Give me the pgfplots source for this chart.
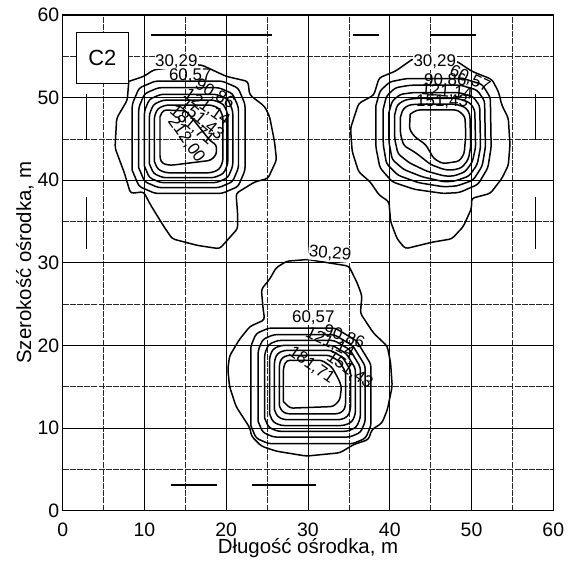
\documentclass[border=0pt]{standalone}
\usepackage{pgfplots}
\pgfplotsset{compat=1.18}
\usepackage{fontspec}
\setmainfont{Liberation Sans}
\tikzset{cl/.style={black, line width=1.5pt, line join=round, mark=none, rounded corners=3pt},
  lab/.style={font=\fontsize{17}{17}\selectfont, inner sep=0.3pt},
  labw/.style={font=\fontsize{17}{17}\selectfont, inner sep=0.6pt, fill=white}}
\begin{document}
\begin{tikzpicture}
\useasboundingbox (-62.7bp,-51.4bp) rectangle (513.3bp,510.6bp);
\begin{axis}[
  scale only axis, width=490.6bp, height=495.6bp,
  xmin=0, xmax=60, ymin=0, ymax=60,
  xtick={0,10,...,60}, ytick={0,10,...,60},
  minor xtick={5,15,...,55}, minor ytick={5,15,...,55},
  grid=both,
  major grid style={black, line width=0.7pt},
  minor grid style={black!85, line width=0.55pt, dash pattern=on 6pt off 1.2pt},
  major tick length=0pt, minor tick length=0pt,
  axis line style={line width=1.4pt},
  /pgf/number format/assume math mode=true,
  ticklabel style={font=\fontsize{19.5}{20}\selectfont},
  xticklabel style={yshift=-9pt},
  xlabel={Długość ośrodka, m}, ylabel={Szerokość ośrodka, m},
  label style={font=\fontsize{20.5}{22}\selectfont},
  xlabel style={yshift=5pt}, ylabel style={yshift=-3pt},
]
% ---------- top-left peak ----------
\addplot[cl] coordinates {(8.08,51.96)(9.93,52.57)(11.16,53.38)(16.9,53.99)(20.0,52.57)(22.66,51.96)(22.86,50.34)(24.7,48.93)(25.3,47.7)(25.9,44.7)(26.15,42.45)(25.1,40.2)(23.5,39.8)(21.2,38.4)(21.4,35.8)(21.4,34.15)(19.2,31.7)(16.5,32.1)(13.4,32.9)(12.4,34.35)(10.75,37.0)(9.9,38.6)(8.3,38.4)(7.5,41.0)(6.4,43.9)(6.6,47.5)(7.9,49.7)(8.08,51.96)};
\addplot[cl] coordinates {(8.5,41.2)(8.5,49.2)(9.34,51.16)(11.3,52.0)(19.5,52.0)(21.46,51.16)(22.3,49.2)(22.3,41.2)(21.46,39.24)(19.5,38.4)(11.3,38.4)(9.34,39.24)(8.5,41.2)};
\addplot[cl] coordinates {(9.3,41.5)(9.3,48.8)(10.02,50.48)(11.7,51.2)(19.1,51.2)(20.78,50.48)(21.5,48.8)(21.5,41.5)(20.78,39.82)(19.1,39.1)(11.7,39.1)(10.02,39.82)(9.3,41.5)};
\addplot[cl] coordinates {(10.0,41.7)(10.0,48.4)(10.6,49.8)(12.0,50.4)(18.8,50.4)(20.2,49.8)(20.8,48.4)(20.8,41.7)(20.2,40.3)(18.8,39.7)(12.0,39.7)(10.6,40.3)(10.0,41.7)};
\addplot[cl] coordinates {(10.6,42.0)(10.6,48.0)(11.11,49.19)(12.3,49.7)(18.5,49.7)(19.69,49.19)(20.2,48.0)(20.2,42.0)(19.69,40.81)(18.5,40.3)(12.3,40.3)(11.11,40.81)(10.6,42.0)};
\addplot[cl] coordinates {(11.2,42.3)(11.2,47.7)(11.62,48.68)(12.6,49.1)(18.2,49.1)(19.18,48.68)(19.6,47.7)(19.6,42.3)(19.18,41.32)(18.2,40.9)(12.6,40.9)(11.62,41.32)(11.2,42.3)};
\addplot[cl] coordinates {(11.9,47.7)(12.3,48.5)(15.1,48.4)(18.1,44.7)(18.8,44.3)(18.8,43.1)(18.1,42.4)(13.2,41.8)(12.2,42.0)(11.9,42.6)(11.9,47.7)};
% ---------- top-right peak ----------
\addplot[cl] coordinates {(42.7,54.6)(40.7,53.2)(38.7,52.4)(38.05,50.3)(36.2,49.3)(35.2,46.3)(35.4,43.5)(36.2,41.0)(37.6,39.8)(38.7,38.2)(39.9,37.4)(40.1,35.0)(40.9,32.9)(41.9,31.7)(45.2,32.5)(47.6,32.9)(49.0,34.4)(50.0,36.6)(50.0,37.8)(52.3,38.4)(53.7,40.2)(54.5,41.8)(54.7,44.3)(54.5,47.5)(53.7,49.1)(53.3,50.7)(52.5,52.2)(50.0,53.2)(48.2,54.4)(42.7,54.6)};
\addplot[cl] coordinates {(38.3,49.0)(38.8,50.8)(40.0,51.9)(42.0,52.3)(49.0,52.3)(51.3,51.6)(52.3,50.0)(52.4,44.0)(52.0,41.5)(50.8,39.5)(48.5,38.5)(46.5,38.4)(43.0,38.9)(40.3,39.8)(38.8,41.5)(38.3,44.0)(38.3,49.0)};
\addplot[cl] coordinates {(39.2,48.6)(39.6,50.2)(40.7,51.2)(42.5,51.5)(48.7,51.5)(50.7,50.9)(51.6,49.6)(51.7,44.0)(51.3,41.7)(50.2,40.0)(48.2,39.3)(46.6,39.2)(43.5,39.7)(41.0,40.6)(39.6,42.0)(39.2,44.3)(39.2,48.6)};
\addplot[cl] coordinates {(39.9,48.2)(40.3,49.6)(41.3,50.4)(42.8,50.6)(48.5,50.6)(50.2,50.1)(51.0,49.0)(51.1,44.0)(50.7,41.9)(49.7,40.5)(48.0,39.9)(46.7,39.8)(44.0,40.4)(41.7,41.3)(40.3,42.5)(39.9,44.6)(39.9,48.2)};
\addplot[cl] coordinates {(40.6,47.9)(40.9,49.1)(41.8,49.7)(43.1,49.9)(48.3,49.9)(49.8,49.4)(50.4,48.5)(50.5,44.0)(50.1,42.2)(49.2,41.0)(47.8,40.5)(46.7,40.5)(44.5,41.1)(42.4,42.1)(41.0,43.2)(40.6,45.0)(40.6,47.9)};
\addplot[cl] coordinates {(41.3,47.6)(41.6,48.6)(42.3,49.1)(43.3,49.2)(48.1,49.2)(49.3,48.8)(49.8,48.0)(49.9,44.0)(49.6,42.5)(48.8,41.5)(47.6,41.2)(46.6,41.3)(45.0,41.9)(43.2,43.3)(41.7,44.2)(41.3,45.6)(41.3,47.6)};
\addplot[cl] coordinates {(42.5,48.0)(43.3,48.5)(48.3,48.5)(49.2,47.7)(49.3,45.5)(49.1,43.2)(48.5,42.3)(46.5,42.0)(45.4,42.6)(44.4,44.3)(43.0,45.3)(42.4,46.2)(42.5,48.0)};
% ---------- bottom peak ----------
\addplot[cl] coordinates {(30.0,30.4)(27.4,30.2)(26.1,29.4)(25.3,28.0)(24.3,26.8)(24.5,24.5)(24.7,23.1)(22.9,22.3)(21.6,20.7)(20.4,18.7)(20.2,17.1)(20.4,15.05)(21.2,12.6)(22.25,11.0)(22.9,10.0)(23.1,9.0)(24.3,7.8)(26.1,7.2)(29.8,6.6)(33.9,7.0)(35.6,8.0)(37.4,8.6)(37.8,9.8)(39.05,10.6)(39.7,12.2)(40.3,15.05)(40.1,17.9)(39.7,19.9)(38.0,21.5)(37.2,22.7)(36.4,23.9)(36.6,26.0)(36.0,27.6)(35.2,29.2)(35.0,29.6)(30.0,30.4)};
\addplot[cl] coordinates {(23.0,10.3)(23.0,19.9)(23.66,21.44)(25.2,22.1)(33.3,22.1)(35.94,20.56)(37.7,17.7)(37.7,10.3)(37.04,8.76)(35.5,8.1)(25.2,8.1)(23.66,8.76)(23.0,10.3)};
\addplot[cl] coordinates {(23.9,10.8)(23.9,19.4)(24.47,20.73)(25.8,21.3)(33.2,21.3)(35.48,19.97)(37.0,17.5)(37.0,10.8)(36.43,9.47)(35.1,8.9)(25.8,8.9)(24.47,9.47)(23.9,10.8)};
\addplot[cl] coordinates {(24.7,11.2)(24.7,19.0)(25.18,20.12)(26.3,20.6)(33.2,20.6)(35.12,19.48)(36.4,17.4)(36.4,11.2)(35.92,10.08)(34.8,9.6)(26.3,9.6)(25.18,10.08)(24.7,11.2)};
\addplot[cl] coordinates {(25.3,11.7)(25.3,18.6)(25.72,19.58)(26.7,20.0)(33.0,20.0)(34.68,19.02)(35.8,17.2)(35.8,11.7)(35.38,10.72)(34.4,10.3)(26.7,10.3)(25.72,10.72)(25.3,11.7)};
\addplot[cl] coordinates {(25.9,12.2)(25.9,18.2)(26.26,19.04)(27.1,19.4)(32.8,19.4)(34.24,18.56)(35.2,17.0)(35.2,12.2)(34.84,11.36)(34.0,11.0)(27.1,11.0)(26.26,11.36)(25.9,12.2)};
\addplot[cl] coordinates {(26.5,12.7)(26.5,17.8)(26.8,18.5)(27.5,18.8)(32.6,18.8)(33.8,18.1)(34.6,16.8)(34.6,12.7)(34.3,12.0)(33.6,11.7)(27.5,11.7)(26.8,12.0)(26.5,12.7)};
\addplot[cl] coordinates {(27.0,13.2)(27.0,17.4)(27.4,18.2)(31.7,18.2)(32.9,17.4)(33.7,16.0)(34.1,15.0)(33.9,13.4)(33.1,12.6)(27.8,12.4)(27.0,13.2)};
% ---------- segments ----------
\addplot[black, line width=1.6pt] coordinates {(10.8,57.6)(25.6,57.6)};
\addplot[black, line width=1.6pt] coordinates {(35.5,57.6)(38.7,57.6)};
\addplot[black, line width=1.6pt] coordinates {(44.9,57.6)(50.5,57.6)};
\addplot[black, line width=1.6pt] coordinates {(2.9,44.9)(2.9,50.4)};
\addplot[black, line width=1.6pt] coordinates {(2.9,31.7)(2.9,38.0)};
\addplot[black, line width=1.6pt] coordinates {(57.8,44.9)(57.8,50.4)};
\addplot[black, line width=1.6pt] coordinates {(57.8,31.7)(57.8,38.0)};
\addplot[black, line width=1.6pt] coordinates {(13.2,3.1)(18.9,3.1)};
\addplot[black, line width=1.6pt] coordinates {(23.2,3.1)(31.0,3.1)};
% ---------- labels ----------
\node[labw] at (axis cs:13.9,54.4) {30,29};
\node[lab] at (axis cs:15.6,52.7) {60,57};
\node[lab, rotate=-30] at (axis cs:18.6,50.4) {90,86};
\node[lab, rotate=-35] at (axis cs:17.6,48.8) {121,14};
\node[lab, rotate=-40] at (axis cs:17.0,47.3) {151,43};
\node[lab, rotate=-40] at (axis cs:15.8,46.6) {181,71};
\node[lab, rotate=-55] at (axis cs:15.1,44.9) {212,00};
\node[labw] at (axis cs:45.5,54.3) {30,29};
\node[lab, rotate=-25] at (axis cs:49.8,52.2) {60,57};
\node[lab] at (axis cs:46.8,52.0) {90,86};
\node[lab, rotate=-5] at (axis cs:47.0,50.7) {121,14};
\node[lab] at (axis cs:46.4,49.5) {151,43};
\node[labw, rotate=-5] at (axis cs:32.7,31.1) {30,29};
\node[labw] at (axis cs:30.65,23.4) {60,57};
\node[lab, rotate=-20] at (axis cs:34.4,21.05) {90,86};
\node[lab, rotate=-25] at (axis cs:32.7,20.25) {121,14};
\node[lab, rotate=-35] at (axis cs:35.1,17.0) {151,43};
\node[lab, rotate=-35] at (axis cs:30.45,17.6) {181,71};
\node[draw=black, line width=0.9pt, fill=white, minimum width=52bp, minimum height=51bp, inner sep=0pt, font=\fontsize{22}{22}\selectfont] at (axis cs:4.85,54.8) {C2};
\end{axis}
\end{tikzpicture}
\end{document}
